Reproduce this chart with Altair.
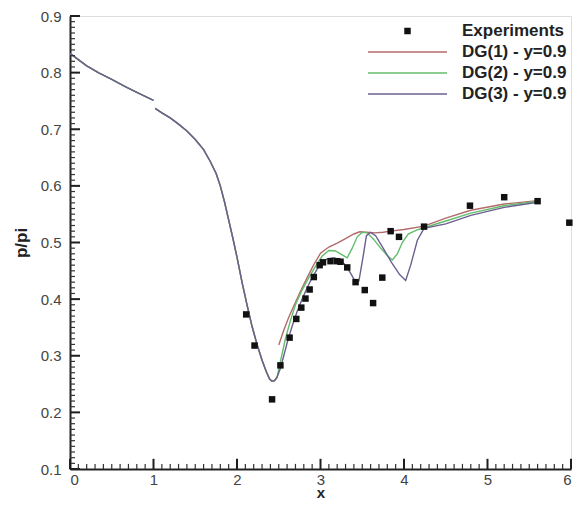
import altair as alt
import pandas as pd

# ---------------- data ----------------
series_names = ["Experiments", "DG(1) - y=0.9", "DG(2) - y=0.9", "DG(3) - y=0.9"]
series_colors = ["#111111", "#b36b6b", "#62bd6c", "#6b5f8f"]

exp_x = [2.11, 2.21, 2.42, 2.52, 2.63, 2.71, 2.77, 2.82, 2.87, 2.92, 2.99, 3.03, 3.12,
         3.20, 3.24, 3.32, 3.42, 3.53, 3.63, 3.74, 3.84, 3.94, 4.24, 4.79, 5.20, 5.60, 5.98]
exp_y = [0.373, 0.318, 0.223, 0.283, 0.332, 0.365, 0.385, 0.401, 0.417, 0.439, 0.460, 0.465, 0.467,
         0.467, 0.466, 0.456, 0.430, 0.416, 0.393, 0.438, 0.520, 0.510, 0.528, 0.565, 0.580, 0.573, 0.535]

# common part of the three DG curves (upstream of x = 1, then the expansion)
up_x = [0.0, 0.1, 0.2, 0.35, 0.5, 0.65, 0.8, 0.9, 1.0]
up_y = [0.834, 0.823, 0.812, 0.799, 0.788, 0.776, 0.765, 0.758, 0.751]
dn_x = [1.02, 1.1, 1.2, 1.3, 1.4, 1.5, 1.6, 1.68, 1.75, 1.8, 1.85, 1.9, 1.95, 2.0, 2.06,
        2.12, 2.18, 2.24, 2.3, 2.35, 2.39, 2.42, 2.45, 2.48]
dn_y = [0.737, 0.729, 0.720, 0.709, 0.697, 0.682, 0.664, 0.643, 0.622, 0.600, 0.572, 0.540,
        0.508, 0.474, 0.430, 0.390, 0.352, 0.320, 0.292, 0.272, 0.259, 0.255, 0.256, 0.262]

# DG(1): separate branch after the minimum
dg1_x = [2.50, 2.56, 2.62, 2.68, 2.76, 2.84, 2.92, 3.0, 3.1, 3.2, 3.3, 3.4, 3.47, 3.55,
         3.65, 3.75, 3.84, 4.0, 4.24, 4.5, 4.8, 5.2, 5.6]
dg1_y = [0.319, 0.345, 0.368, 0.388, 0.414, 0.438, 0.461, 0.481, 0.492, 0.499, 0.507, 0.515,
         0.519, 0.518, 0.517, 0.518, 0.520, 0.523, 0.529, 0.543, 0.557, 0.568, 0.574]
# DG(2): continues from the minimum
dg2_x = [2.52, 2.58, 2.64, 2.70, 2.78, 2.86, 2.94, 3.02, 3.1, 3.18, 3.26, 3.32, 3.38, 3.44,
         3.5, 3.56, 3.64, 3.72, 3.8, 3.86, 3.92, 3.98, 4.05, 4.15, 4.24, 4.5, 4.8, 5.2, 5.6]
dg2_y = [0.290, 0.330, 0.362, 0.390, 0.416, 0.438, 0.458, 0.476, 0.486, 0.485, 0.478, 0.473,
         0.490, 0.510, 0.518, 0.517, 0.505, 0.490, 0.477, 0.469, 0.480, 0.500, 0.515, 0.522,
         0.526, 0.538, 0.552, 0.565, 0.573]
# DG(3): continues from the minimum
dg3_x = [2.52, 2.56, 2.61, 2.66, 2.72, 2.78, 2.84, 2.90, 2.96, 3.02, 3.08, 3.16, 3.24, 3.30,
         3.36, 3.42, 3.46, 3.51, 3.55, 3.6, 3.66, 3.75, 3.85, 3.95, 4.02, 4.08, 4.16, 4.24,
         4.5, 4.8, 5.2, 5.6]
dg3_y = [0.278, 0.300, 0.328, 0.352, 0.378, 0.400, 0.420, 0.438, 0.453, 0.465, 0.471, 0.473,
         0.469, 0.460, 0.446, 0.430, 0.432, 0.475, 0.512, 0.518, 0.512, 0.490, 0.465, 0.443,
         0.433, 0.460, 0.504, 0.525, 0.533, 0.548, 0.562, 0.571]

x_major = [0, 1, 2, 3, 4, 5, 6]
y_major = [0.1, 0.2, 0.3, 0.4, 0.5, 0.6, 0.7, 0.8, 0.9]
x_minor = [round(i * 0.1, 2) for i in range(61) if i % 10]
y_minor = [round(0.1 + i * 0.01, 3) for i in range(81) if i % 10]

# ---------------- tables ----------------
rows = []
branches = [
    (series_names[1], dg1_x, dg1_y, "c"),
    (series_names[2], dg2_x, dg2_y, "b"),
    (series_names[3], dg3_x, dg3_y, "b"),
]
for name, tx, ty, tseg in branches:
    for xv, yv in zip(up_x, up_y):
        rows.append({"series": name, "seg": "a", "x": xv, "y": yv})
    for xv, yv in zip(dn_x, dn_y):
        rows.append({"series": name, "seg": "b", "x": xv, "y": yv})
    for xv, yv in zip(tx, ty):
        rows.append({"series": name, "seg": tseg, "x": xv, "y": yv})
lines_df = pd.DataFrame(rows)
exp_df = pd.DataFrame({"series": series_names[0], "x": exp_x, "y": exp_y})

# tick tables: each tick runs from the axis line inwards
yt_major = pd.DataFrame({"y": y_major, "x": 0.0, "x2": 0.12})
yt_minor = pd.DataFrame({"y": y_minor, "x": 0.0, "x2": 0.06})
xt_major = pd.DataFrame({"x": x_major, "y": 0.1, "y2": 0.118})
xt_minor = pd.DataFrame({"x": x_minor, "y": 0.1, "y2": 0.109})

xs = alt.Scale(domain=[0, 6], nice=False, zero=False)
ys = alt.Scale(domain=[0.1, 0.9], nice=False, zero=False)

x_axis = alt.Axis(values=x_major, format="d", title="x", ticks=False, grid=False,
                  labelFontSize=15, labelColor="#444", labelPadding=3,
                  titleFontSize=15, titleFontWeight="bold", titleColor="#222", titlePadding=-2,
                  domainColor="#222", domainWidth=2)
y_axis = alt.Axis(values=y_major, format=".1f", title="p/pi", ticks=False, grid=False,
                  labelFontSize=15, labelColor="#444", labelPadding=9,
                  titleFontSize=17, titleFontWeight="bold", titleColor="#222", titlePadding=10,
                  domainColor="#222", domainWidth=2)

X = alt.X("x:Q", scale=xs, axis=x_axis)
Y = alt.Y("y:Q", scale=ys, axis=y_axis)

sq = "M-0.082,-0.082H0.082V0.082H-0.082Z"
bar = "M-1,-0.019H1V0.019H-1Z"
legend = alt.Legend(title=None, orient="none", legendX=298, legendY=5, clipHeight=20,
                    rowPadding=1, symbolSize=6241, labelFontSize=17, labelFontWeight="bold",
                    labelColor="#222", labelOffset=15, padding=0, symbolStrokeWidth=0,
                    labelFont="Liberation Sans")

lines = alt.Chart(lines_df).mark_line(strokeWidth=1.4).encode(
    x=X, y=Y,
    stroke=alt.Stroke("series:N", scale=alt.Scale(domain=series_names[1:], range=series_colors[1:]),
                      legend=None),
    detail="seg:N",
)

points = alt.Chart(exp_df).mark_point(filled=True, size=6241, opacity=1).encode(
    x=X, y=Y,
    color=alt.Color("series:N", scale=alt.Scale(domain=series_names, range=series_colors),
                    legend=legend),
    shape=alt.Shape("series:N", scale=alt.Scale(domain=series_names, range=[sq, bar, bar, bar]),
                    legend=legend),
)

ytick_major = alt.Chart(yt_major).mark_rule(color="#1e1e1e", strokeWidth=2).encode(
    y=Y, x=X, x2="x2:Q")
ytick_minor = alt.Chart(yt_minor).mark_rule(color="#333", strokeWidth=1.2).encode(
    y=Y, x=X, x2="x2:Q")
xtick_major = alt.Chart(xt_major).mark_rule(color="#1e1e1e", strokeWidth=2).encode(
    x=X, y=Y, y2="y2:Q")
xtick_minor = alt.Chart(xt_minor).mark_rule(color="#333", strokeWidth=1.2).encode(
    x=X, y=Y, y2="y2:Q")

chart = alt.layer(lines, points, ytick_minor, ytick_major, xtick_minor, xtick_major).properties(
    width=501, height=453,
    autosize=alt.AutoSizeParams(type="none"),
    padding={"left": 62, "top": 8, "right": 2, "bottom": 33},
).configure_view(stroke=None).configure(font="Liberation Sans")

chart.save("out.html", embed_options={"renderer": "svg", "actions": False})
